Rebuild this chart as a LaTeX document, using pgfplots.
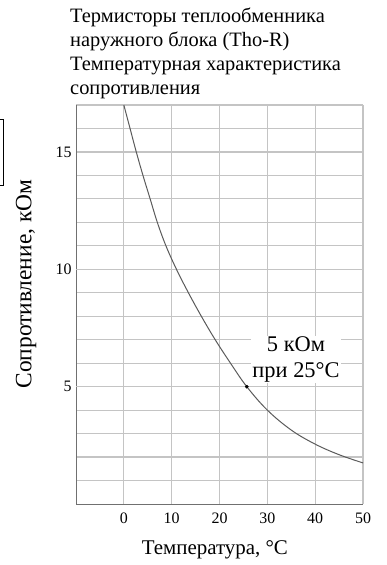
\documentclass[border=0pt]{standalone}
\usepackage{pgfplots}
\pgfplotsset{compat=1.18}
\usepackage{fontspec}
\setmainfont{Liberation Serif}
\definecolor{gridl}{HTML}{C4C4C4}
\definecolor{gridd}{HTML}{707070}
\definecolor{curve}{HTML}{5A5A5A}
\begin{document}
\begin{tikzpicture}[x=1bp,y=1bp]
\useasboundingbox (0,0) rectangle (386,565);
\begin{axis}[
  at={(76bp,61bp)}, anchor=south west,
  scale only axis, width=287bp, height=399bp,
  xmin=-10, xmax=50, ymin=0, ymax=17,
  axis x line*=bottom, axis y line*=left,
  axis line style={gridd, line width=0.9bp},
  xtick={0,10,20,30,40,50},
  ytick={1,2,3,4,5,6,7,8,9,10,11,12,13,14,15,16,17},
  yticklabels={,,,,5,,,,,10,,,,,15,,},
  xmajorgrids, ymajorgrids,
  major grid style={gridl, line width=1.2bp},
  extra y ticks={5,10}, extra y tick labels={},
  extra y tick style={grid style={gridd, line width=0.9bp}, ymajorgrids},
  extra x ticks={30}, extra x tick labels={},
  extra x tick style={grid style={gridl!90!black, line width=2.6bp}, xmajorgrids},
  major tick length=0pt, minor tick length=0pt,
  /pgf/number format/assume math mode=true,
  ticklabel style={font=\fontsize{16}{18}\selectfont},
  yticklabel style={xshift=-1bp},
  xticklabel style={yshift=-5bp},
  every axis x label/.style={at={(axis description cs:0.484,-0.115)}, anchor=center, font=\fontsize{21}{24}\selectfont},
  every axis y label/.style={at={(axis description cs:-0.174,0.551)}, anchor=center, rotate=90, font=\fontsize{23.5}{26}\selectfont},
  xlabel={Температура, °С},
  ylabel={Сопротивление, кОм},
  clip=true,
]
\addplot[curve, line width=1bp, smooth, tension=0.6] coordinates {
(0,17.0) (1.3,16.0) (2.6,15.0) (4.0,14.0) (5.5,13.0) (7.0,12.0) (8.8,11.0)
(11.0,10.0) (13.5,9.0) (16.2,8.0) (19.1,7.0) (22.3,6.0) (25.7,5.0)
(30,4.0) (35,3.15) (40,2.55) (45,2.1) (50,1.75)
};
\addplot[only marks, mark=*, mark size=1.6bp, black] coordinates {(25.7,5.0)};
\node[fill=white, inner sep=1bp, align=center, font=\fontsize{22.5}{26}\selectfont] at (axis cs:36,6.15) {5 кОм\\при 25°С};
\end{axis}
\node[anchor=north west, inner sep=0pt, align=left, font=\fontsize{20.5}{24}\selectfont] at (70,557) {Термисторы теплообменника\\наружного блока (Tho-R)\\Температурная характеристика\\сопротивления};
\draw[black, line width=0.8bp] (0,446) -- (3,446) -- (3,380) -- (0,380);
\end{tikzpicture}
\end{document}
